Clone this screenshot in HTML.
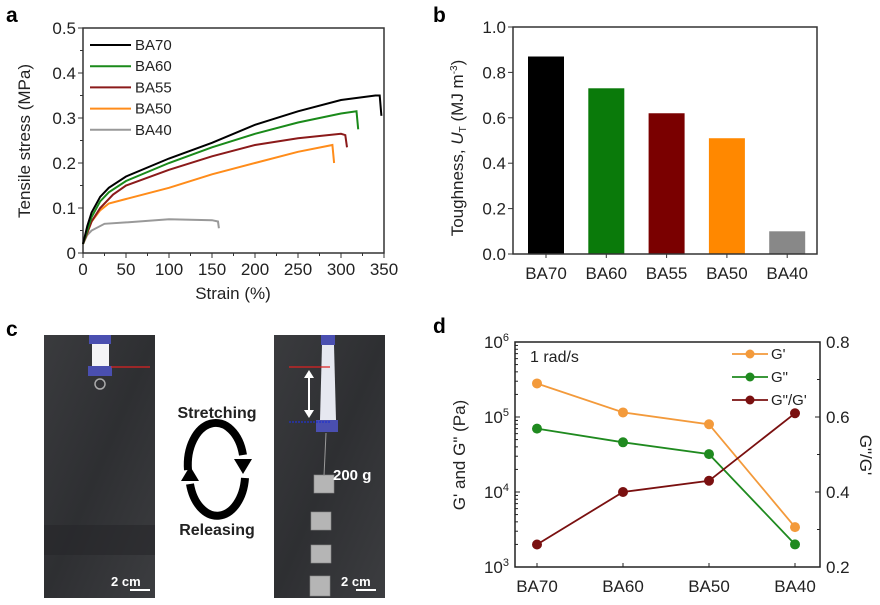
<!DOCTYPE html>
<html><head><meta charset="utf-8"><style>
body{margin:0;background:#fff;}
svg{display:block;font-family:"Liberation Sans",Arial,sans-serif;}
</style></head><body>
<svg id="fig" width="880" height="605" viewBox="0 0 880 605" xmlns="http://www.w3.org/2000/svg">
<defs>
<linearGradient id="bg1" x1="0" y1="0" x2="1" y2="1"><stop offset="0" stop-color="#3a3b3e"/><stop offset="0.5" stop-color="#2e2f32"/><stop offset="1" stop-color="#3c3d40"/></linearGradient>
</defs>
<text x="6" y="22" font-size="21" font-weight="bold">a</text>
<text x="433" y="22" font-size="21" font-weight="bold">b</text>
<text x="6" y="336" font-size="21" font-weight="bold">c</text>
<text x="433" y="333" font-size="21" font-weight="bold">d</text>

<g id="pa"></g>
<g id="pb"></g>
<g id="pd"></g>

<g>
<rect x="44" y="335" width="111" height="263" fill="url(#bg1)"/>
<rect x="44" y="525" width="111" height="30" fill="#26272a" opacity="0.6"/>
<rect x="89" y="335" width="22" height="9" fill="#4a4fb0"/>
<rect x="92" y="344" width="17" height="22" fill="#f4f4f6"/>
<rect x="88" y="366" width="24" height="10" fill="#4a4fb0"/>
<circle cx="100" cy="384" r="5" fill="none" stroke="#aaa" stroke-width="1.5"/>
<line x1="111" y1="367" x2="150" y2="367" stroke="#d22" stroke-width="1.2"/>
<line x1="130" y1="590" x2="150" y2="590" stroke="#fff" stroke-width="2"/>
<text x="111" y="586" font-size="13" font-weight="bold" fill="#fff">2 cm</text>

<rect x="274" y="335" width="111" height="263" fill="url(#bg1)"/>
<rect x="321" y="335" width="14" height="10" fill="#4a4fb0"/>
<path d="M322 345 L334 345 L336 420 L320 420 Z" fill="#e6e8f0"/>
<rect x="316" y="420" width="22" height="12" fill="#4a4fb0"/>
<line x1="289" y1="367" x2="330" y2="367" stroke="#d22" stroke-width="1.2"/>
<line x1="289" y1="422" x2="330" y2="422" stroke="#2233cc" stroke-width="1.2" stroke-dasharray="2,1"/>
<line x1="309" y1="374" x2="309" y2="414" stroke="#fff" stroke-width="2"/>
<path d="M304 378 L309 370 L314 378 Z M304 410 L309 418 L314 410 Z" fill="#fff"/>
<g fill="#b5b5b5" stroke="#888" stroke-width="0.6">
<rect x="314" y="475" width="20" height="18"/><rect x="311" y="512" width="20" height="18"/>
<rect x="311" y="545" width="20" height="18"/><rect x="310" y="576" width="20" height="20"/>
</g>
<line x1="326" y1="433" x2="324" y2="476" stroke="#999" stroke-width="1"/>
<text x="333" y="480" font-size="15" font-weight="bold" fill="#fff">200 g</text>
<line x1="356" y1="590" x2="376" y2="590" stroke="#fff" stroke-width="2"/>
<text x="341" y="586" font-size="13" font-weight="bold" fill="#fff">2 cm</text>

<text x="217" y="418" font-size="16" font-weight="bold" text-anchor="middle" fill="#222">Stretching</text>
<text x="217" y="535" font-size="16" font-weight="bold" text-anchor="middle" fill="#222">Releasing</text>
<g fill="none" stroke="#000" stroke-width="8">
<path d="M188 470 A28 42 0 0 1 243 455"/>
<path d="M245 478 A28 42 0 0 1 190 484"/>
</g>
<path d="M234 459 L252 459 L243 474 Z" fill="#000"/>
<path d="M181 481 L199 481 L190 466 Z" fill="#000"/>
</g>
</svg>
<script>
const NS="http://www.w3.org/2000/svg";
function mk(p,tag,at,txt){const e=document.createElementNS(NS,tag);for(const k in at)e.setAttribute(k,at[k]);if(txt!==undefined)e.textContent=txt;p.appendChild(e);return e;}

const aSeriesNames=["BA70","BA60","BA55","BA50","BA40"];
const aColors=["#000000","#1a8a1a","#8b1a1a","#ff8c1a","#999999"];
const aStrainBA70=[0,5,10,20,30,50,100,150,200,250,300,340,345,347];
const aStressBA70=[0.02,0.06,0.09,0.125,0.145,0.17,0.21,0.245,0.285,0.315,0.34,0.35,0.35,0.305];
const aStrainBA60=[0,10,20,30,50,100,150,200,250,300,318,320];
const aStressBA60=[0.02,0.08,0.115,0.135,0.16,0.2,0.235,0.265,0.29,0.31,0.315,0.275];
const aStrainBA55=[0,10,20,35,50,100,150,200,250,300,305,307];
const aStressBA55=[0.02,0.07,0.1,0.13,0.15,0.185,0.215,0.24,0.255,0.265,0.262,0.235];
const aStrainBA50=[0,10,20,30,50,100,150,200,250,290,292];
const aStressBA50=[0.02,0.07,0.095,0.11,0.12,0.145,0.175,0.2,0.225,0.24,0.2];
const aStrainBA40=[0,5,10,25,50,100,150,157,158];
const aStressBA40=[0.02,0.04,0.05,0.065,0.068,0.075,0.073,0.07,0.055];
const aXTicks=[0,50,100,150,200,250,300,350];
const aYTicks=[0,0.1,0.2,0.3,0.4,0.5];
const aYTickLabels=["0","0.1","0.2","0.3","0.4","0.5"];

const bCategories=["BA70","BA60","BA55","BA50","BA40"];
const bValues=[0.87,0.73,0.62,0.51,0.10];
const bColors=["#000000","#0a7a0a","#7a0000","#ff8800","#888888"];
const bYTicks=[0,0.2,0.4,0.6,0.8,1.0];
const bYTickLabels=["0.0","0.2","0.4","0.6","0.8","1.0"];

const dCategories=["BA70","BA60","BA50","BA40"];
const dGp=[2.8e5,1.15e5,8e4,3.4e3];
const dGpp=[7e4,4.6e4,3.2e4,2.0e3];
const dRatio=[0.26,0.40,0.43,0.61];
const dRightTicks=[0.2,0.4,0.6,0.8];
const dRightTickLabels=["0.2","0.4","0.6","0.8"];
const dLogTicks=[3,4,5,6];

(function(){
const g=document.getElementById('pa');
const L=83,R=384,T=28,B=253;
const sx=v=>L+(v/350)*(R-L), sy=v=>B-(v/0.5)*(B-T);
const box=mk(g,'rect',{x:L,y:T,width:R-L,height:B-T,fill:'none',stroke:'#333','stroke-width':1.5});


aXTicks.forEach(t=>{mk(g,'line',{x1:sx(t),x2:sx(t),y1:B,y2:B+5,stroke:'#333'});
const tx=mk(g,'text',{x:sx(t),y:B+22,'font-size':17,'text-anchor':'middle',fill:'#222'},String(t));

});
aXTicks.slice(0,-1).forEach(t=>mk(g,'line',{x1:sx(t+25),x2:sx(t+25),y1:B,y2:B+3,stroke:'#333'}));
aYTicks.forEach((t,i)=>{mk(g,'line',{x1:L-5,x2:L,y1:sy(t),y2:sy(t),stroke:'#333'});
const tx=mk(g,'text',{x:L-7,y:sy(t)+6,'font-size':17,'text-anchor':'end',fill:'#222'},aYTickLabels[i]);

});
aYTicks.slice(0,-1).forEach(t=>mk(g,'line',{x1:L-3,x2:L,y1:sy(t+0.05),y2:sy(t+0.05),stroke:'#333'}));
const xl=mk(g,'text',{x:233,y:299,'font-size':17,'text-anchor':'middle',fill:'#222'},'Strain (%)');


const yl=mk(g,'text',{x:0,y:0,'font-size':17,'text-anchor':'middle',fill:'#222',transform:'translate(30,141) rotate(-90)'},'Tensile stress (MPa)');


const xs=[aStrainBA70,aStrainBA60,aStrainBA55,aStrainBA50,aStrainBA40];
const ys=[aStressBA70,aStressBA60,aStressBA55,aStressBA50,aStressBA40];
for(let s=4;s>=0;s--){
const d=xs[s].map((x,i)=>(i?'L':'M')+sx(x).toFixed(1)+' '+sy(ys[s][i]).toFixed(1)).join(' ');
const p=mk(g,'path',{d:d,fill:'none',stroke:aColors[s],'stroke-width':2});


}
aSeriesNames.forEach((n,i)=>{const y=45+i*21.2;
mk(g,'line',{x1:90,x2:131,y1:y,y2:y,stroke:aColors[i],'stroke-width':2});
const t=mk(g,'text',{x:135,y:y+5,'font-size':15,fill:'#222'},n);

});
})();

(function(){
const g=document.getElementById('pb');
const L=513,R=817,T=27,B=254;
const sy=v=>B-v*(B-T);
const cx=i=>546+i*60.3;
bValues.forEach((v,i)=>{const r=mk(g,'rect',{x:cx(i)-18,y:sy(v),width:36,height:B-sy(v),fill:bColors[i]});

});
const box=mk(g,'rect',{x:L,y:T,width:R-L,height:B-T,fill:'none',stroke:'#333','stroke-width':1.5});


bCategories.forEach((c,i)=>{mk(g,'line',{x1:cx(i),x2:cx(i),y1:B,y2:B+4,stroke:'#333'});
const t=mk(g,'text',{x:cx(i),y:B+25,'font-size':17,'text-anchor':'middle',fill:'#222'},c);

});
bYTicks.forEach((t,i)=>{mk(g,'line',{x1:L-5,x2:L,y1:sy(t),y2:sy(t),stroke:'#333'});
const tx=mk(g,'text',{x:L-7,y:sy(t)+6,'font-size':17,'text-anchor':'end',fill:'#222'},bYTickLabels[i]);

});
const yl=mk(g,'text',{x:0,y:0,'font-size':17,'text-anchor':'middle',fill:'#222',transform:'translate(463,148) rotate(-90)'});


mk(yl,'tspan',{},'Toughness, ');mk(yl,'tspan',{'font-style':'italic'},'U');
mk(yl,'tspan',{'font-size':10,dy:3},'T');mk(yl,'tspan',{dy:-3},' (MJ m');
mk(yl,'tspan',{'font-size':10,dy:-6},'-3');mk(yl,'tspan',{dy:6},')');
})();

(function(){
const g=document.getElementById('pd');
const L=515,R=820,T=342,B=567;
const sy=v=>B-(Math.log10(v)-3)*(B-T)/3;
const sr=v=>B-(v-0.2)/0.6*(B-T);
const cx=i=>537+i*86;
const box=mk(g,'rect',{x:L,y:T,width:R-L,height:B-T,fill:'none',stroke:'#222','stroke-width':1.5});


dLogTicks.forEach(e=>{const y=sy(Math.pow(10,e));mk(g,'line',{x1:L,x2:L+5,y1:y,y2:y,stroke:'#222'});
const t=mk(g,'text',{x:L-6,y:y+6,'font-size':17,'text-anchor':'end',fill:'#222'});


mk(t,'tspan',{},'10');mk(t,'tspan',{'font-size':11,dy:-7},String(e));
if(e<6)for(let m=2;m<10;m++){const yy=sy(m*Math.pow(10,e));mk(g,'line',{x1:L,x2:L+3,y1:yy,y2:yy,stroke:'#222'});}});
dRightTicks.forEach((v,i)=>{const y=sr(v);mk(g,'line',{x1:R-5,x2:R,y1:y,y2:y,stroke:'#222'});
const t=mk(g,'text',{x:R+6,y:y+6,'font-size':17,fill:'#222'},dRightTickLabels[i]);


if(i<3)mk(g,'line',{x1:R-3,x2:R,y1:sr(v+0.1),y2:sr(v+0.1),stroke:'#222'});});
dCategories.forEach((c,i)=>{mk(g,'line',{x1:cx(i),x2:cx(i),y1:B,y2:B-4,stroke:'#222'});
const t=mk(g,'text',{x:cx(i),y:B+25,'font-size':17,'text-anchor':'middle',fill:'#222'},c);

});
const series=[[dGp,'#f39a3b',sy,'g-prime'],[dGpp,'#1f8a1f',sy,'g-double-prime'],[dRatio,'#7a1010',sr,'loss-ratio']];
series.forEach(([vals,col,f,nm])=>{
const d=vals.map((v,i)=>(i?'L':'M')+cx(i)+' '+f(v).toFixed(1)).join(' ');
const p=mk(g,'path',{d:d,fill:'none',stroke:col,'stroke-width':1.8});


vals.forEach((v,i)=>{const c=mk(g,'circle',{cx:cx(i),cy:f(v),r:5,fill:col});

});});
const lab=["G'",'G"','G"/G\''];
series.forEach(([v,col],i)=>{const y=354+i*23;
mk(g,'line',{x1:732,x2:768,y1:y,y2:y,stroke:col,'stroke-width':1.8});
mk(g,'circle',{cx:750,cy:y,r:4.5,fill:col});
const t=mk(g,'text',{x:771,y:y+5,'font-size':15,fill:'#222'},lab[i]);

});
const rt=mk(g,'text',{x:530,y:362,'font-size':16,fill:'#222'},'1 rad/s');


const yl=mk(g,'text',{x:0,y:0,'font-size':17,'text-anchor':'middle',fill:'#222',transform:'translate(465,455) rotate(-90)'},'G\' and G" (Pa)');


const yr=mk(g,'text',{x:0,y:0,'font-size':17,'text-anchor':'middle',fill:'#222',transform:'translate(860,455) rotate(90)'},'G"/G\'');


})();
</script>
</body></html>
